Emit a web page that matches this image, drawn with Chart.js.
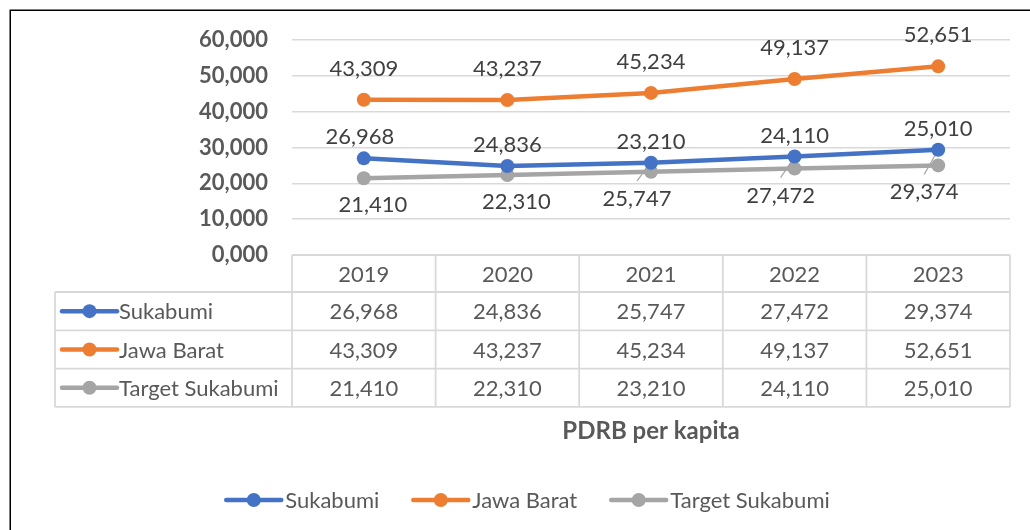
<!DOCTYPE html>
<html>
<head>
<meta charset="utf-8">
<script src="https://cdn.jsdelivr.net/npm/chart.js@4.4.1/dist/chart.umd.min.js"></script>
<style>
  html, body { margin: 0; padding: 0; background: #ffffff; }
  #wrap { width: 1030px; height: 530px; }
</style>
</head>
<body>
<div id="wrap"><canvas id="c" width="1030" height="530"></canvas></div>
<script>
// ---- data ----
const categories = ['2019', '2020', '2021', '2022', '2023'];
const sukabumi = [26968, 24836, 25747, 27472, 29374];
const jawaBarat = [43309, 43237, 45234, 49137, 52651];
const targetSukabumi = [21410, 22310, 23210, 24110, 25010];
const seriesNames = ['Sukabumi', 'Jawa Barat', 'Target Sukabumi'];
const yTickLabels = ['0,000', '10,000', '20,000', '30,000', '40,000', '50,000', '60,000'];
const chartTitle = 'PDRB per kapita';

const FONT = 'Lato, Carlito, "Open Sans", sans-serif';
const FS = 22;
const fmt = v => v.toLocaleString('en-US');

const extras = {
  id: 'excelExtras',
  beforeDraw(chart) {
    const ctx = chart.ctx;
    ctx.save();
    ctx.fillStyle = '#ffffff';
    ctx.fillRect(0, 0, chart.width, chart.height);
    ctx.restore();
  },
  // leader lines for the dragged labels (drawn under the series lines)
  beforeDatasetsDraw(chart) {
    const ctx = chart.ctx;
    const blue = chart.getDatasetMeta(0).data;
    const gray = chart.getDatasetMeta(2).data;
    ctx.save();
    ctx.strokeStyle = '#A6A6A6';
    ctx.lineWidth = 1.2;
    for (let i = 2; i < categories.length; i++) {
      const lx = gray[i].x - 14, ly = gray[i].y + 27;
      ctx.beginPath();
      ctx.moveTo(lx, ly - 18);
      ctx.lineTo(blue[i].x, blue[i].y);
      ctx.stroke();
    }
    ctx.restore();
  },
  afterDatasetsDraw(chart) {
    const ctx = chart.ctx;
    const blue = chart.getDatasetMeta(0).data;
    const orange = chart.getDatasetMeta(1).data;
    const gray = chart.getDatasetMeta(2).data;
    ctx.save();
    ctx.font = FS + 'px ' + FONT;
    ctx.fillStyle = '#404040';
    ctx.textAlign = 'center';
    ctx.textBaseline = 'middle';
    for (let i = 0; i < categories.length; i++) {
      ctx.fillText(fmt(jawaBarat[i]), orange[i].x, orange[i].y - 31);
      const swapped = i >= 2;
      const upper = swapped ? targetSukabumi[i] : sukabumi[i];
      ctx.fillText(fmt(upper), blue[i].x - (i === 0 ? 4 : 0), blue[i].y - 21);
      const lower = swapped ? sukabumi[i] : targetSukabumi[i];
      const lx = swapped ? gray[i].x - 14 : gray[i].x + 9;
      ctx.fillText(fmt(lower), lx, gray[i].y + 27);
    }
    ctx.restore();
  },
  afterDraw(chart) {
    const ctx = chart.ctx;
    const ca = chart.chartArea;
    const xs = chart.scales.x;
    const n = categories.length;
    const colW = (ca.right - ca.left) / n;
    const top = ca.bottom;
    const headerH = 37;
    const rowH = 38.3;
    const legLeft = 55;
    const tableBottom = top + headerH + 3 * rowH;
    const colors = chart.data.datasets.map(d => d.borderColor);
    const values = [sukabumi, jawaBarat, targetSukabumi];

    ctx.save();
    ctx.strokeStyle = '#D9D9D9';
    ctx.lineWidth = 1.8;
    ctx.beginPath();
    ctx.moveTo(ca.left, top); ctx.lineTo(ca.right, top);
    for (let r = 0; r <= 3; r++) {
      const y = top + headerH + r * rowH;
      ctx.moveTo(legLeft, y); ctx.lineTo(ca.right, y);
    }
    for (let c = 0; c <= n; c++) {
      const x = ca.left + c * colW;
      ctx.moveTo(x, top); ctx.lineTo(x, tableBottom);
    }
    ctx.moveTo(legLeft, top + headerH); ctx.lineTo(legLeft, tableBottom);
    ctx.stroke();

    ctx.font = FS + 'px ' + FONT;
    ctx.fillStyle = '#595959';
    ctx.textAlign = 'center';
    ctx.textBaseline = 'middle';
    for (let c = 0; c < n; c++) {
      const cx = xs.getPixelForValue(c);
      ctx.fillText(categories[c], cx, top + headerH / 2 + 1);
      for (let r = 0; r < 3; r++) {
        ctx.fillText(fmt(values[r][c]), cx, top + headerH + r * rowH + rowH / 2 + 1);
      }
    }
    const drawKey = (x, y, color) => {
      ctx.strokeStyle = color;
      ctx.lineWidth = 4.5;
      ctx.lineCap = 'round';
      ctx.beginPath();
      ctx.moveTo(x, y); ctx.lineTo(x + 55, y);
      ctx.stroke();
      ctx.fillStyle = color;
      ctx.beginPath();
      ctx.arc(x + 27.5, y, 7, 0, Math.PI * 2);
      ctx.fill();
    };
    for (let r = 0; r < 3; r++) {
      const y = top + headerH + r * rowH + rowH / 2;
      drawKey(legLeft + 7, y, colors[r]);
      ctx.fillStyle = '#595959';
      ctx.textAlign = 'left';
      ctx.fillText(seriesNames[r], legLeft + 64, y + 1);
    }

    ctx.font = 'bold 24px ' + FONT;
    ctx.fillStyle = '#595959';
    ctx.textAlign = 'center';
    ctx.fillText(chartTitle, (ca.left + ca.right) / 2, 431);

    ctx.font = FS + 'px ' + FONT;
    const keyW = 55, gapKT = 4, gapItems = 34;
    const widths = seriesNames.map(s => keyW + gapKT + ctx.measureText(s).width);
    const total = widths.reduce((a, b) => a + b, 0) + gapItems * (seriesNames.length - 1);
    let x = 528 - total / 2;
    const ly = 500;
    for (let i = 0; i < seriesNames.length; i++) {
      drawKey(x, ly, colors[i]);
      ctx.fillStyle = '#595959';
      ctx.textAlign = 'left';
      ctx.fillText(seriesNames[i], x + keyW + gapKT, ly + 1);
      x += widths[i] + gapItems;
    }

    ctx.strokeStyle = '#000000';
    ctx.lineWidth = 1.5;
    ctx.strokeRect(10.25, 10.25, 1200, 800);
    ctx.restore();
  }
};

const mkDs = (label, data, color) => ({
  label, data,
  borderColor: color,
  backgroundColor: color,
  borderWidth: 4.5,
  borderCapStyle: 'round',
  pointRadius: 7,
  pointHoverRadius: 7,
  pointBackgroundColor: color,
  pointBorderColor: color,
  pointBorderWidth: 0,
  tension: 0,
  fill: false
});

new Chart(document.getElementById('c'), {
  type: 'line',
  data: {
    labels: categories,
    datasets: [
      mkDs(seriesNames[0], sukabumi, '#4472C4'),
      mkDs(seriesNames[1], jawaBarat, '#ED7D31'),
      mkDs(seriesNames[2], targetSukabumi, '#A5A5A5')
    ]
  },
  options: {
    responsive: false,
    devicePixelRatio: 1,
    animation: false,
    layout: { padding: { left: 0, right: 20, top: 40, bottom: 275 } },
    plugins: {
      legend: { display: false },
      tooltip: { enabled: false },
      title: { display: false }
    },
    scales: {
      x: {
        type: 'category',
        offset: true,
        display: false
      },
      y: {
        min: 0,
        max: 60000,
        afterFit(scale) { scale.width = 292; },
        border: { display: false },
        grid: { color: '#D9D9D9', lineWidth: 1.6, drawTicks: false },
        ticks: {
          stepSize: 10000,
          padding: 24,
          color: '#595959',
          font: { family: FONT, size: FS, weight: 'bold' },
          callback: (v, i) => yTickLabels[i]
        }
      }
    }
  },
  plugins: [extras]
});
</script>
</body>
</html>
